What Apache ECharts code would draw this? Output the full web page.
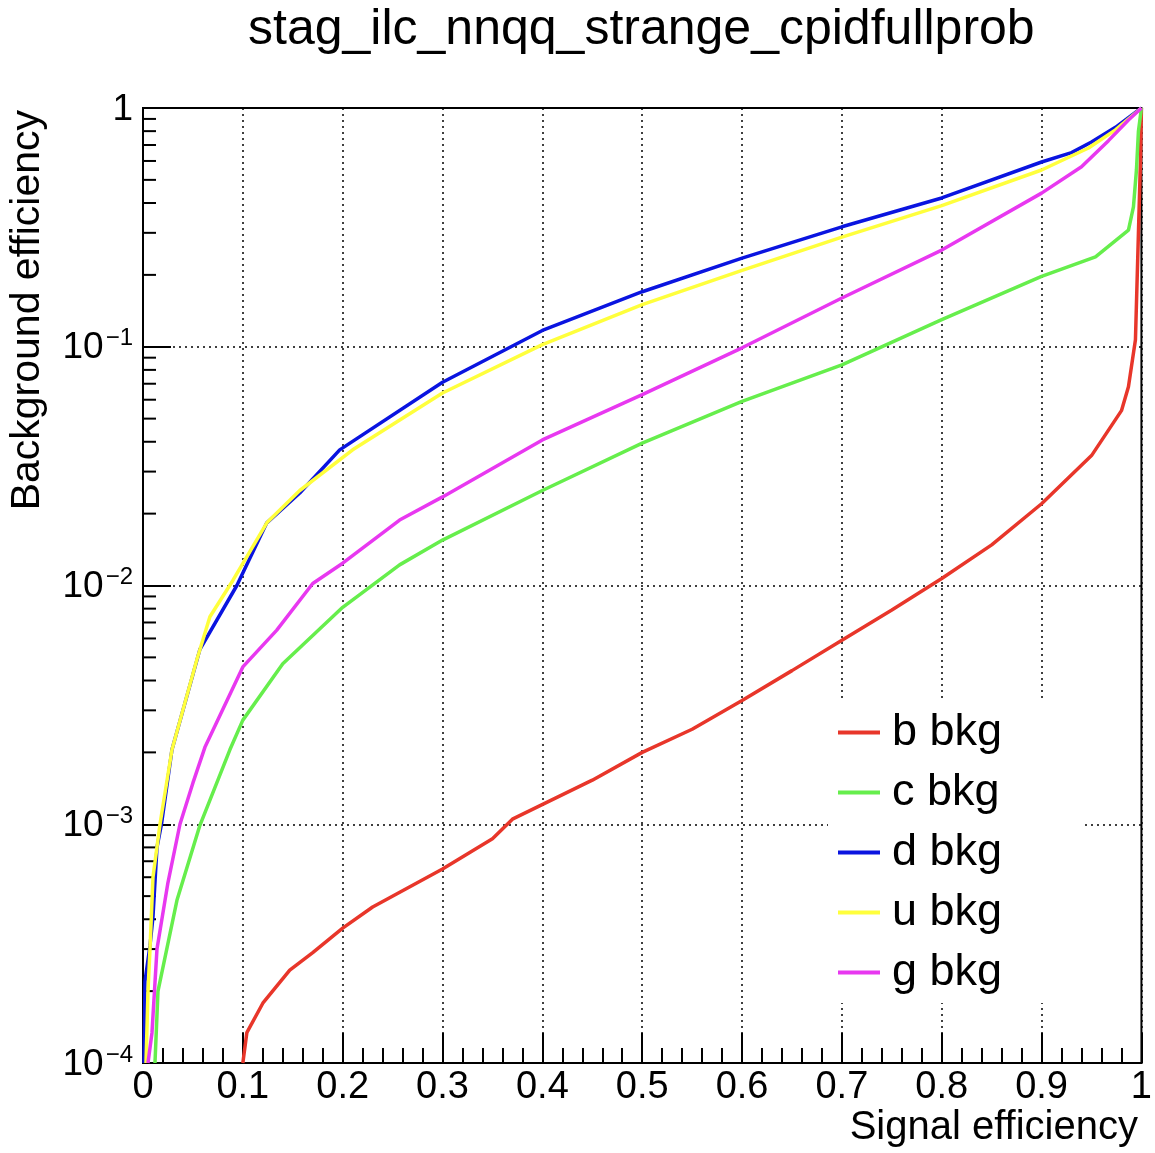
<!DOCTYPE html>
<html>
<head>
<meta charset="utf-8">
<script src="https://cdn.jsdelivr.net/npm/echarts@6/dist/echarts.min.js"></script>
<style>
html,body{margin:0;padding:0;background:#fff;}
#chart{width:1155px;height:1153px;}
</style>
</head>
<body>
<div id="chart"></div>
<script>
// ---- data ----
const titleText = 'stag_ilc_nnqq_strange_cpidfullprob';
const xTitle = 'Signal efficiency';
const yTitle = 'Background efficiency';
const seriesNames = ['b bkg', 'c bkg', 'd bkg', 'u bkg', 'g bkg'];
const seriesColors = ['#e8362a', '#66ee4c', '#0a14e0', '#ffff3c', '#e838f0'];

const bX = [0.100, 0.104, 0.12, 0.147, 0.17, 0.2, 0.23, 0.3, 0.35, 0.37, 0.45, 0.5, 0.55, 0.6, 0.65, 0.7, 0.75, 0.8, 0.85, 0.9, 0.95, 0.98, 0.987, 0.994, 0.997, 0.999, 1.0];
const bY = [1e-4, 1.34e-4, 1.78e-4, 2.45e-4, 2.9e-4, 3.67e-4, 4.5e-4, 6.5e-4, 8.7e-4, 1.05e-3, 1.53e-3, 2.0e-3, 2.5e-3, 3.3e-3, 4.4e-3, 5.9e-3, 7.9e-3, 1.07e-2, 1.48e-2, 2.2e-2, 3.5e-2, 5.4e-2, 6.8e-2, 0.107, 0.3, 0.6, 1.0];

const cX = [0.012, 0.015, 0.034, 0.057, 0.087, 0.1, 0.14, 0.2, 0.257, 0.3, 0.4, 0.5, 0.6, 0.7, 0.8, 0.9, 0.954, 0.987, 0.992, 0.995, 0.997, 1.0];
const cY = [1e-4, 2.0e-4, 4.8e-4, 9.9e-4, 2.05e-3, 2.73e-3, 4.7e-3, 8.1e-3, 1.22e-2, 1.55e-2, 2.5e-2, 3.95e-2, 5.9e-2, 8.4e-2, 0.13, 0.197, 0.238, 0.308, 0.385, 0.55, 0.8, 1.0];

const dX = [0.001, 0.002, 0.007, 0.010, 0.014, 0.0185, 0.029, 0.057, 0.094, 0.124, 0.157, 0.197, 0.3, 0.4, 0.5, 0.6, 0.7, 0.8, 0.9, 0.93, 0.95, 0.974, 1.0];
const dY = [1e-4, 2.2e-4, 3.1e-4, 4.1e-4, 8e-4, 1e-3, 2.05e-3, 5.4e-3, 1e-2, 1.83e-2, 2.44e-2, 3.7e-2, 0.071, 0.117, 0.17, 0.235, 0.318, 0.42, 0.594, 0.65, 0.72, 0.83, 1.0];

const uX = [0.003, 0.005, 0.007, 0.010, 0.017, 0.029, 0.054, 0.067, 0.09, 0.124, 0.157, 0.21, 0.3, 0.4, 0.5, 0.6, 0.7, 0.8, 0.9, 0.947, 0.974, 1.0];
const uY = [1e-4, 2e-4, 3e-4, 6e-4, 1e-3, 2.05e-3, 4.9e-3, 7.4e-3, 1.05e-2, 1.83e-2, 2.5e-2, 3.7e-2, 0.064, 0.102, 0.15, 0.209, 0.288, 0.39, 0.55, 0.68, 0.81, 1.0];

const gX = [0.005, 0.009, 0.014, 0.025, 0.037, 0.05, 0.062, 0.1, 0.134, 0.17, 0.2, 0.257, 0.3, 0.4, 0.5, 0.6, 0.7, 0.8, 0.9, 0.94, 0.967, 0.987, 1.0];
const gY = [1e-4, 1.34e-4, 3e-4, 5.7e-4, 1e-3, 1.49e-3, 2.1e-3, 4.56e-3, 6.5e-3, 1.02e-2, 1.24e-2, 1.88e-2, 2.35e-2, 4.07e-2, 0.063, 0.099, 0.16, 0.254, 0.44, 0.567, 0.73, 0.89, 1.0];

const xTicks = [0, 0.1, 0.2, 0.3, 0.4, 0.5, 0.6, 0.7, 0.8, 0.9, 1];
const yMinorTicks = [];
[1e-4, 1e-3, 1e-2, 1e-1].forEach(function (d) {
  [2, 3, 4, 5, 6, 7, 8, 9].forEach(function (m) { yMinorTicks.push(+(m * d).toPrecision(3)); });
});

// ---- chart ----
const FONT = '"Liberation Sans", Arial, Helvetica, sans-serif';
function zip(xs, ys) { return xs.map(function (x, i) { return [x, ys[i]]; }); }
const allData = [zip(bX, bY), zip(cX, cY), zip(dX, dY), zip(uX, uY), zip(gX, gY)];

const chart = echarts.init(document.getElementById('chart'), null, { renderer: 'canvas' });

const lineSeries = seriesNames.map(function (name, i) {
  return {
    name: name,
    type: 'line',
    data: allData[i],
    showSymbol: false,
    symbol: 'none',
    smooth: false,
    color: seriesColors[i],
    lineStyle: { color: seriesColors[i], width: 3.5 },
    z: 3 + i,
    animation: false
  };
});

const option = {
  animation: false,
  backgroundColor: '#ffffff',
  title: {
    text: titleText,
    left: 248,
    top: 5,
    padding: 0,
    textStyle: { fontFamily: FONT, fontSize: 50, fontWeight: 'normal', color: '#000' }
  },
  legend: {
    data: seriesNames,
    orient: 'vertical',
    left: 828,
    top: 702,
    padding: [8, 80, 8, 10],
    itemGap: 15,
    itemWidth: 42,
    itemHeight: 4,
    icon: 'rect',
    backgroundColor: '#ffffff',
    textStyle: { fontFamily: FONT, fontSize: 45, color: '#000', padding: [0, 0, 0, 7] },
    selectedMode: false,
    z: 10
  },
  grid: {
    left: 143, right: 12, top: 108, bottom: 90,
    show: true, borderColor: '#000', borderWidth: 2, backgroundColor: 'transparent'
  },
  xAxis: {
    type: 'value',
    min: 0, max: 1, interval: 0.1,
    axisLine: { show: true, lineStyle: { color: '#000', width: 2 } },
    axisTick: { show: true, inside: true, length: 30, lineStyle: { color: '#000', width: 2 } },
    minorTick: { show: true, splitNumber: 5, length: 15, lineStyle: { color: '#000', width: 2 } },
    splitLine: { show: true, lineStyle: { color: '#000', width: 1.5, type: [2, 4] } },
    axisLabel: {
      show: true, margin: 6, fontFamily: FONT, fontSize: 38, color: '#000',
      showMinLabel: true, showMaxLabel: true, hideOverlap: false,
      formatter: function (v) { return String(+v.toFixed(1)); }
    }
  },
  yAxis: {
    type: 'log',
    logBase: 10,
    min: 1e-4, max: 1,
    axisLine: { show: true, lineStyle: { color: '#000', width: 2 } },
    axisTick: { show: true, inside: true, length: 28, lineStyle: { color: '#000', width: 2 } },
    splitLine: { show: true, lineStyle: { color: '#000', width: 1.5, type: [2, 4] } },
    axisLabel: {
      show: true, margin: 10, color: '#000',
      showMinLabel: true, showMaxLabel: true, hideOverlap: false,
      formatter: function (v) {
        const e = Math.round(Math.log10(v));
        if (e === 0) return '{b|1}';
        return '{b|10}{s|\u2212' + Math.abs(e) + '}';
      },
      rich: {
        b: { fontFamily: FONT, fontSize: 37, color: '#000', verticalAlign: 'bottom', lineHeight: 40 },
        s: { fontFamily: FONT, fontSize: 24, color: '#000', verticalAlign: 'top', lineHeight: 40, padding: [0, 0, 12, 2] }
      }
    }
  },
  graphic: [
    {
      type: 'text',
      x: 1138, y: 1128,
      style: { text: xTitle, fontFamily: FONT, fontSize: 40, fill: '#000', align: 'right', verticalAlign: 'middle' }
    },
    {
      type: 'text',
      x: 28, y: 110,
      rotation: Math.PI / 2,
      style: { text: yTitle, fontFamily: FONT, fontSize: 41, fill: '#000', align: 'right', verticalAlign: 'middle' }
    }
  ],
  series: lineSeries.concat([{
    type: 'custom',
    name: 'yMinorTicks',
    coordinateSystem: 'cartesian2d',
    silent: true,
    animation: false,
    z: 2,
    data: yMinorTicks.map(function (v) { return [0, v]; }),
    renderItem: function (params, api) {
      const p = api.coord([api.value(0), api.value(1)]);
      return {
        type: 'line',
        shape: { x1: p[0], y1: p[1], x2: p[0] + 13, y2: p[1] },
        style: { stroke: '#000', lineWidth: 2 }
      };
    }
  }])
};

chart.setOption(option);
</script>
</body>
</html>
